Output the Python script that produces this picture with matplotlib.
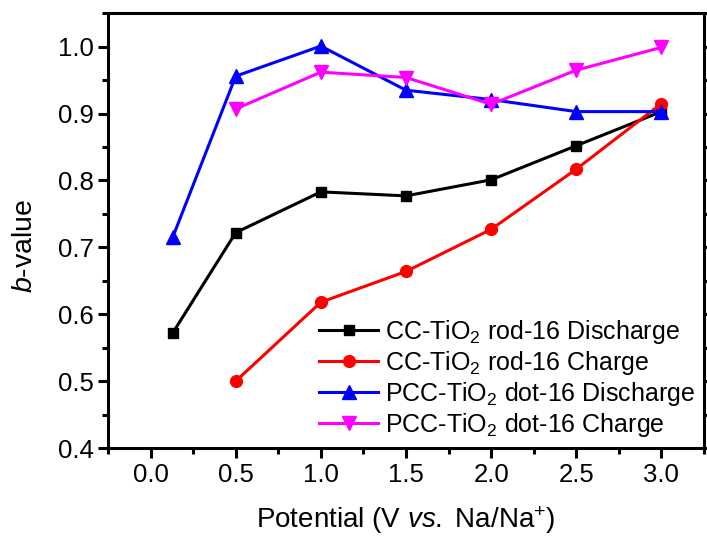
import matplotlib
matplotlib.use("Agg")
import matplotlib.pyplot as plt
from matplotlib.ticker import MultipleLocator, FormatStrFormatter

plt.rcParams['font.family'] = ['Liberation Sans', 'DejaVu Sans']
plt.rcParams['mathtext.fontset'] = 'custom'
plt.rcParams['mathtext.rm'] = 'Liberation Sans'
plt.rcParams['mathtext.it'] = 'Liberation Sans:italic'
plt.rcParams['mathtext.bf'] = 'Liberation Sans:bold'

x_first = [0.13, 0.5, 1.0, 1.5, 2.0, 2.5, 3.0]
x_half = [0.5, 1.0, 1.5, 2.0, 2.5, 3.0]

cc_discharge = [0.572, 0.722, 0.783, 0.777, 0.801, 0.852, 0.903]
cc_charge = [0.500, 0.618, 0.664, 0.727, 0.817, 0.915]
pcc_discharge = [0.715, 0.956, 1.001, 0.935, 0.921, 0.903, 0.903]
pcc_charge = [0.907, 0.962, 0.954, 0.914, 0.965, 0.999]

labels = ["CC-TiO$_2$ rod-16 Discharge",
          "CC-TiO$_2$ rod-16 Charge",
          "PCC-TiO$_2$ dot-16 Discharge",
          "PCC-TiO$_2$ dot-16 Charge"]

W, H = 707, 537
fig = plt.figure(figsize=(W / 100, H / 100), dpi=100)
left, right, top, bottom = 108, 704, 13.3, 448
ax = fig.add_axes([left / W, 1 - bottom / H, (right - left) / W, (bottom - top) / H])

lw = 2.2
ax.plot(x_first, cc_discharge, '-s', color='black', lw=lw, ms=7.5, label=labels[0], zorder=3)
ax.plot(x_half, cc_charge, '-o', color='#ff0000', lw=lw, ms=8.5, label=labels[1], zorder=3)
ax.plot(x_first, pcc_discharge, '-^', color='#0000ff', lw=lw, ms=10, label=labels[2], zorder=3)
ax.plot(x_half, pcc_charge, '-v', color='#ff00ff', lw=lw, ms=10, label=labels[3], zorder=3)

ax.set_xlim(-0.25, 3.25)
ax.set_ylim(0.4, 1.05)
ax.xaxis.set_major_locator(MultipleLocator(0.5))
ax.xaxis.set_minor_locator(MultipleLocator(0.25))
ax.yaxis.set_major_locator(MultipleLocator(0.1))
ax.yaxis.set_minor_locator(MultipleLocator(0.05))
ax.xaxis.set_major_formatter(FormatStrFormatter('%.1f'))
ax.yaxis.set_major_formatter(FormatStrFormatter('%.1f'))

for s in ax.spines.values():
    s.set_linewidth(2.2)

ax.tick_params(axis='both', which='major', direction='out', length=7, width=2.2,
               labelsize=18.5, pad=3.5)
ax.tick_params(axis='both', which='minor', direction='out', length=4, width=2.2)
ax.tick_params(axis='y', which='both', right=True)
ax.tick_params(axis='x', which='both', top=False)

ax.set_xlabel("Potential (V $\\it{vs.}$ Na/Na$^{+}$)", fontsize=20)
ax.xaxis.label.set_va('baseline')
ax.xaxis.set_label_coords(0.5, (bottom - 528) / (bottom - top))
ax.set_ylabel("$\\it{b}$-value", fontsize=20.5)
ax.yaxis.label.set_va('center')
ax.yaxis.set_label_coords((25 - left) / (right - left), 0.465)

leg = ax.legend(loc='upper left', frameon=False, fontsize=18,
                handlelength=2.36, handletextpad=0.28, labelspacing=0.12,
                borderpad=0, borderaxespad=0,
                bbox_to_anchor=(319 / W, 1 - 318 / H),
                bbox_transform=fig.transFigure)

fig.savefig("out.png", dpi=100)
